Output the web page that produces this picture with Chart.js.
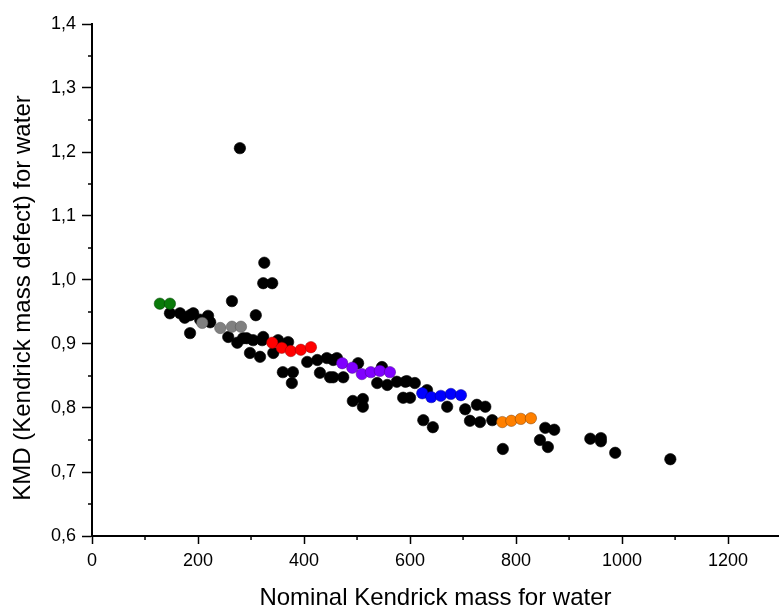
<!DOCTYPE html>
<html>
<head>
<meta charset="utf-8">
<script src="https://cdn.jsdelivr.net/npm/chart.js@4/dist/chart.umd.min.js"></script>
<style>
html,body{margin:0;padding:0;background:#fff;}
#wrap{width:779px;height:610px;}
</style>
</head>
<body>
<div id="wrap"><canvas id="c" width="779" height="610"></canvas></div>
<script>
// ---- data ----
const xTickValues = [0, 200, 400, 600, 800, 1000, 1200];
const yTickValues = [0.6, 0.7, 0.8, 0.9, 1.0, 1.1, 1.2, 1.3, 1.4];
const xTitle = 'Nominal Kendrick mass for water';
const yTitle = 'KMD (Kendrick mass defect) for water';

const greenX = [128, 147];
const greenY = [0.963, 0.963];

const grayX = [208, 242, 264, 281];
const grayY = [0.933, 0.925, 0.927, 0.927];

const redX = [340, 358, 375, 394, 413];
const redY = [0.902, 0.894, 0.889, 0.891, 0.895];

const purpleX = [472, 491, 509, 526, 543, 562];
const purpleY = [0.870, 0.863, 0.853, 0.856, 0.858, 0.856];

const blueX = [623, 640, 658, 677, 696];
const blueY = [0.823, 0.817, 0.819, 0.822, 0.820];

const orangeX = [774, 791, 809, 828];
const orangeY = [0.778, 0.780, 0.783, 0.784];

const blackX = [147,166,185,191,219,223,185,175,204,264,309,323,340,325,279,257,274,292,304,321,285,323,298,317,342,351,370,406,425,443,462,455,360,379,377,430,449,474,455,502,547,538,557,575,594,609,632,591,492,511,511,587,600,625,643,670,704,726,742,713,732,755,775,855,872,845,860,940,960,960,987,1091];
const blackY = [0.948,0.948,0.945,0.948,0.944,0.934,0.917,0.941,0.938,0.967,0.945,0.995,0.995,1.027,1.206,0.911,0.902,0.909,0.906,0.906,0.909,0.911,0.886,0.880,0.886,0.906,0.903,0.872,0.875,0.878,0.878,0.875,0.856,0.856,0.839,0.855,0.848,0.848,0.848,0.870,0.864,0.839,0.836,0.841,0.842,0.839,0.828,0.841,0.811,0.814,0.802,0.816,0.816,0.781,0.770,0.802,0.798,0.805,0.802,0.780,0.778,0.781,0.736,0.769,0.766,0.750,0.739,0.752,0.753,0.748,0.730,0.720];

function pts(xs, ys){ return xs.map((x,i)=>({x:x, y:ys[i]})); }

function ds(label, xs, ys, color, border){
  return {
    label: label,
    data: pts(xs, ys),
    backgroundColor: color,
    borderColor: border,
    borderWidth: 0.6,
    pointRadius: 5.7,
    pointHoverRadius: 5.7
  };
}

const FONT = "'Liberation Sans', Arial, sans-serif";

// minor tick marks at midpoints between the scale's own ticks, plus the y title
const extras = {
  id: 'extras',
  afterDraw(chart){
    const ctx = chart.ctx;
    const xs = chart.scales.x, ys = chart.scales.y;
    ctx.save();
    ctx.strokeStyle = '#000';
    ctx.lineWidth = 1.5;
    const xt = xs.ticks.map(t=>t.value);
    for (let i=0;i<xt.length;i++){
      const v = (i < xt.length-1) ? (xt[i]+xt[i+1])/2 : xt[i] + (xt[1]-xt[0])/2;
      if (v > xs.max) continue;
      const p = xs.getPixelForValue(v);
      ctx.beginPath(); ctx.moveTo(p, xs.top); ctx.lineTo(p, xs.top+4); ctx.stroke();
    }
    const yt = ys.ticks.map(t=>t.value);
    for (let i=0;i<yt.length-1;i++){
      const v = (yt[i]+yt[i+1])/2;
      const p = ys.getPixelForValue(v);
      ctx.beginPath(); ctx.moveTo(ys.right, p); ctx.lineTo(ys.right-4, p); ctx.stroke();
    }
    // y axis title
    const ca = chart.chartArea;
    ctx.translate(ys.left + 23, (ca.top + ca.bottom)/2 + 18);
    ctx.rotate(-Math.PI/2);
    ctx.fillStyle = '#000';
    ctx.font = "24px " + FONT;
    ctx.textAlign = 'center';
    ctx.textBaseline = 'middle';
    ctx.fillText(yTitle, 0, 0);
    ctx.restore();
  }
};

new Chart(document.getElementById('c'), {
  type: 'scatter',
  data: {
    datasets: [
      ds('green', greenX, greenY, '#0a7a0a', 'rgba(0,60,0,0.8)'),
      ds('gray', grayX, grayY, '#808080', 'rgba(80,80,80,0.8)'),
      ds('red', redX, redY, '#ff0000', 'rgba(150,0,0,0.8)'),
      ds('purple', purpleX, purpleY, '#8000ff', 'rgba(70,0,140,0.8)'),
      ds('blue', blueX, blueY, '#0000ff', 'rgba(0,0,140,0.8)'),
      ds('orange', orangeX, orangeY, '#ff8000', 'rgba(120,60,0,0.8)'),
      ds('black', blackX, blackY, '#000000', '#000000')
    ]
  },
  options: {
    responsive: false,
    animation: false,
    devicePixelRatio: 1,
    events: [],
    layout: { autoPadding: false, padding: { top: 24, right: 0, left: 0, bottom: 0 } },
    plugins: { legend: { display: false }, tooltip: { enabled: false } },
    scales: {
      x: {
        type: 'linear',
        min: 0,
        max: 1296,
        afterFit(s){ s.height = 74; s.paddingRight = 0; s.paddingLeft = 0; },
        afterBuildTicks(s){ s.ticks = xTickValues.map(v=>({value:v})); },
        border: { display: true, color: '#000', width: 2 },
        grid: { display: true, drawOnChartArea: false, drawTicks: true, tickLength: 8, tickColor: '#000', tickWidth: 1.5, color: '#000' },
        ticks: {
          color: '#000',
          padding: 6,
          maxRotation: 0,
          font: { family: FONT, size: 18 },
          callback: v => String(v)
        },
        title: {
          display: true,
          text: xTitle,
          color: '#000',
          font: { family: FONT, size: 24, lineHeight: 1 },
          padding: { top: 0, bottom: 0 }
        }
      },
      y: {
        type: 'linear',
        min: 0.6,
        max: 1.4,
        afterFit(s){ s.width = 92; },
        afterBuildTicks(s){ s.ticks = yTickValues.map(v=>({value:v})); },
        border: { display: true, color: '#000', width: 2 },
        grid: { display: true, drawOnChartArea: false, drawTicks: true, tickLength: 10, tickColor: '#000', tickWidth: 1.5, color: '#000' },
        ticks: {
          color: '#000',
          padding: 6,
          font: { family: FONT, size: 18 },
          callback: v => Number(v).toFixed(1).replace('.', ',')
        },
        title: { display: false }
      }
    }
  },
  plugins: [extras]
});
</script>
</body>
</html>
